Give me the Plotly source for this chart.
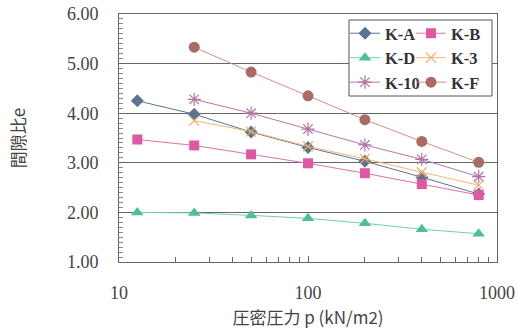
import plotly.graph_objects as go

pressure = [12.5, 25, 50, 100, 200, 400, 800]
e_KA = [4.25, 3.98, 3.62, 3.31, 3.03, 2.71, 2.37]
e_KB = [3.47, 3.35, 3.17, 2.99, 2.79, 2.57, 2.35]
e_KD = [2.00, 1.99, 1.94, 1.88, 1.78, 1.66, 1.57]
p_short = [25, 50, 100, 200, 400, 800]
e_K3 = [3.85, 3.63, 3.33, 3.08, 2.81, 2.55]
e_K10 = [4.28, 4.00, 3.68, 3.36, 3.07, 2.72]
e_KF = [5.33, 4.83, 4.35, 3.87, 3.43, 3.01]

y_ticks = [1, 2, 3, 4, 5, 6]
x_ticks = [10, 100, 1000]
x_title = "圧密圧力 p (kN/m2)"
y_title = "間隙比e"

SERIF = "Liberation Serif, Times New Roman, serif"
CJK = "Noto Sans CJK JP"

series = [
    ("K-A", pressure, e_KA, "diamond", 10, "#5b7590", "#5b7590", "legend"),
    ("K-B", pressure, e_KB, "square", 10, "#dc5aa2", "#e070b0", "legend2"),
    ("K-D", pressure, e_KD, "triangle-up", 11, "#4fbf94", "#6fd0b0", "legend"),
    ("K-3", p_short, e_K3, "x-thin", 10, "#f5a965", "#f7b575", "legend2"),
    ("K-10", p_short, e_K10, "asterisk", 11, "#b274a4", "#b07aa8", "legend"),
    ("K-F", p_short, e_KF, "circle", 11, "#a86c64", "#d4917f", "legend2"),
]

fig = go.Figure()
for name, xs, ys, sym, size, mcol, lcol, leg in series:
    marker = dict(symbol=sym, size=size, color=mcol)
    if sym in ("x-thin", "asterisk"):
        marker["line"] = dict(color=mcol, width=1.2)
    else:
        marker["line"] = dict(color=mcol, width=0)
    fig.add_trace(go.Scatter(
        x=xs, y=ys, name=name, mode="lines+markers",
        marker=marker, line=dict(color=lcol, width=1),
        legend=leg,
    ))

W, H = 518, 333
PL, PR, PT, PB = 119, 497, 14, 262  # plot area in pixels
PW, PH = PR - PL, PB - PT

def px_x(v):
    return (v - PL) / PW

def px_y(v):
    return 1 - (v - PT) / PH

legend_font = dict(family=SERIF, size=16.5, color="#333", weight="bold")

fig.update_layout(
    width=W, height=H,
    margin=dict(l=PL, r=W - PR, t=PT, b=H - PB, pad=0),
    paper_bgcolor="white", plot_bgcolor="white",
    showlegend=True,
    legend=dict(
        x=px_x(345), y=px_y(16), xanchor="left", yanchor="top",
        bgcolor="rgba(0,0,0,0)", borderwidth=0,
        font=legend_font, itemwidth=30, tracegroupgap=0,
    ),
    legend2=dict(
        x=px_x(411), y=px_y(16), xanchor="left", yanchor="top",
        bgcolor="rgba(0,0,0,0)", borderwidth=0,
        font=legend_font, itemwidth=30, tracegroupgap=0,
    ),
    shapes=[dict(
        type="rect", xref="paper", yref="paper",
        x0=px_x(349), x1=px_x(492), y0=px_y(96), y1=px_y(20),
        line=dict(color="#555", width=1), fillcolor="white", layer="above",
    )],
    xaxis=dict(
        type="log", range=[1, 3], tickvals=x_ticks, ticktext=[str(v) for v in x_ticks],
        showgrid=False, zeroline=False, automargin=False,
        showline=True, linecolor="#666", linewidth=1, mirror=True,
        ticks="inside", ticklen=6, tickcolor="#666",
        minor=dict(ticks="inside", ticklen=5, tickcolor="#666", dtick="D1", showgrid=False),
        tickfont=dict(family=SERIF, size=18, color="#444"),
        ticklabelstandoff=14, ticklabeloverflow="allow",
        title=dict(text=x_title, font=dict(family=CJK, size=17, color="#444"), standoff=10),
    ),
    yaxis=dict(
        range=[1, 6], tickvals=y_ticks, tickformat=".2f",
        showgrid=True, gridcolor="#666", gridwidth=1.2, zeroline=False, automargin=False,
        showline=True, linecolor="#666", linewidth=1, mirror=True,
        ticks="inside", ticklen=5, tickcolor="#666",
        minor=dict(ticks="inside", ticklen=4, tickcolor="#888", dtick=0.1, showgrid=False),
        tickfont=dict(family=SERIF, size=18, color="#444"),
        ticklabelstandoff=16, ticklabeloverflow="allow",
        title=dict(text=y_title, font=dict(family=CJK, size=17, color="#444"), standoff=36),
    ),
)

fig.write_html(
    "out.html",
    config={"displayModeBar": False},
    post_script="document.body.style.margin='0';",
)
